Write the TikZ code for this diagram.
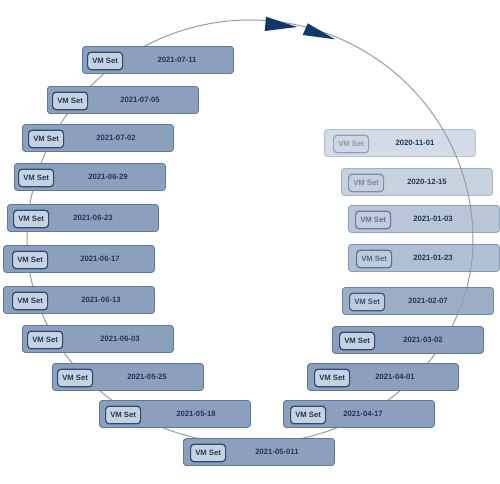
\documentclass[tikz,border=0pt]{standalone}
\usepackage{fontspec}
\setmainfont{Liberation Sans}
\usetikzlibrary{calc}
\definecolor{boxfill}{RGB}{139,160,188}
\definecolor{boxborder}{RGB}{95,120,153}
\definecolor{badgefill}{RGB}{198,210,224}
\definecolor{badgeborder}{RGB}{43,74,115}
\definecolor{txt}{RGB}{30,55,92}
\definecolor{arcgray}{RGB}{155,155,155}
\definecolor{arrownavy}{RGB}{16,58,108}
\tikzset{
  vmbox/.style={draw=boxborder, fill=boxfill, rounded corners=3pt, minimum width=151pt, minimum height=27pt, inner sep=0pt, line width=0.9pt},
  vmbadge/.style={draw=badgeborder, fill=badgefill, rounded corners=3.5pt, minimum width=35pt, minimum height=17.5pt, inner sep=0pt, line width=1.2pt, text=txt, font=\bfseries\fontsize{7.7}{9}\selectfont},
  vmdate/.style={text=txt, inner sep=0pt, font=\bfseries\fontsize{7.7}{9}\selectfont},
  ringline/.style={draw=arcgray, line width=1pt},
  ringarrow/.style={fill=arrownavy},
}
\newcommand\vmitem[7]{%
  \node[vmbox, opacity=#7, anchor=north west] (#1) at (#2,#3) {};
  \node[vmbadge, opacity=#7, anchor=west] (#1v) at ($(#1.west)+(#4,1)$) {VM Set};
  \node[vmdate] (#1d) at ($(#1.west)+(#5,0)$) {#6};
}
\begin{document}
\begin{tikzpicture}[x=1pt,y=-1pt]
\useasboundingbox (0,0) rectangle (500,483);
% ring
\draw[ringline] plot[domain=180:360, samples=120] ({250+223*cos(\x)}, {240+220*sin(\x)})
  -- plot[domain=0:180, samples=120] ({250+223*cos(\x)}, {240+204*sin(\x)});
% boxes
\vmitem{a1}{82}{46}{5}{95}{2021-07-11}{1}
\vmitem{a2}{47}{86}{5}{93}{2021-07-05}{1}
\vmitem{a3}{22}{124}{6}{94}{2021-07-02}{1}
\vmitem{a4}{14}{163}{4}{94}{2021-06-29}{1}
\vmitem{a5}{7}{204}{6}{86}{2021-06-23}{1}
\vmitem{a6}{3}{245}{9}{97}{2021-06-17}{1}
\vmitem{a7}{3}{286}{9}{98}{2021-06-13}{1}
\vmitem{a8}{22}{325}{5}{98}{2021-06-03}{1}
\vmitem{a9}{52}{363}{5}{95}{2021-05-25}{1}
\vmitem{a10}{99}{400}{6}{97}{2021-05-18}{1}
\vmitem{a11}{183}{438}{7}{94}{2021-05-011}{1}
\vmitem{a12}{283}{400}{7}{80}{2021-04-17}{1}
\vmitem{a13}{307}{363}{7}{88}{2021-04-01}{1}
\vmitem{a14}{332}{326}{7}{91}{2021-03-02}{1}
\vmitem{a15}{342}{287}{7}{86}{2021-02-07}{0.85}
\vmitem{a16}{348}{244}{8}{85}{2021-01-23}{0.68}
\vmitem{a17}{348}{205}{7}{85}{2021-01-03}{0.6}
\vmitem{a18}{341}{168}{7}{86}{2020-12-15}{0.48}
\vmitem{a19}{324}{129}{9}{91}{2020-11-01}{0.38}
% arrowheads on the ring
\coordinate (t1a) at (266,16.7);
\coordinate (t1b) at (264.7,31);
\coordinate (t1c) at (297.3,27);
\coordinate (t2a) at (307.7,23.3);
\coordinate (t2b) at (302.7,35);
\coordinate (t2c) at (335,39.3);
\fill[ringarrow] (t1a) -- (t1c) -- (t1b) -- cycle;
\fill[ringarrow] (t2a) -- (t2c) -- (t2b) -- cycle;
\end{tikzpicture}
\end{document}
